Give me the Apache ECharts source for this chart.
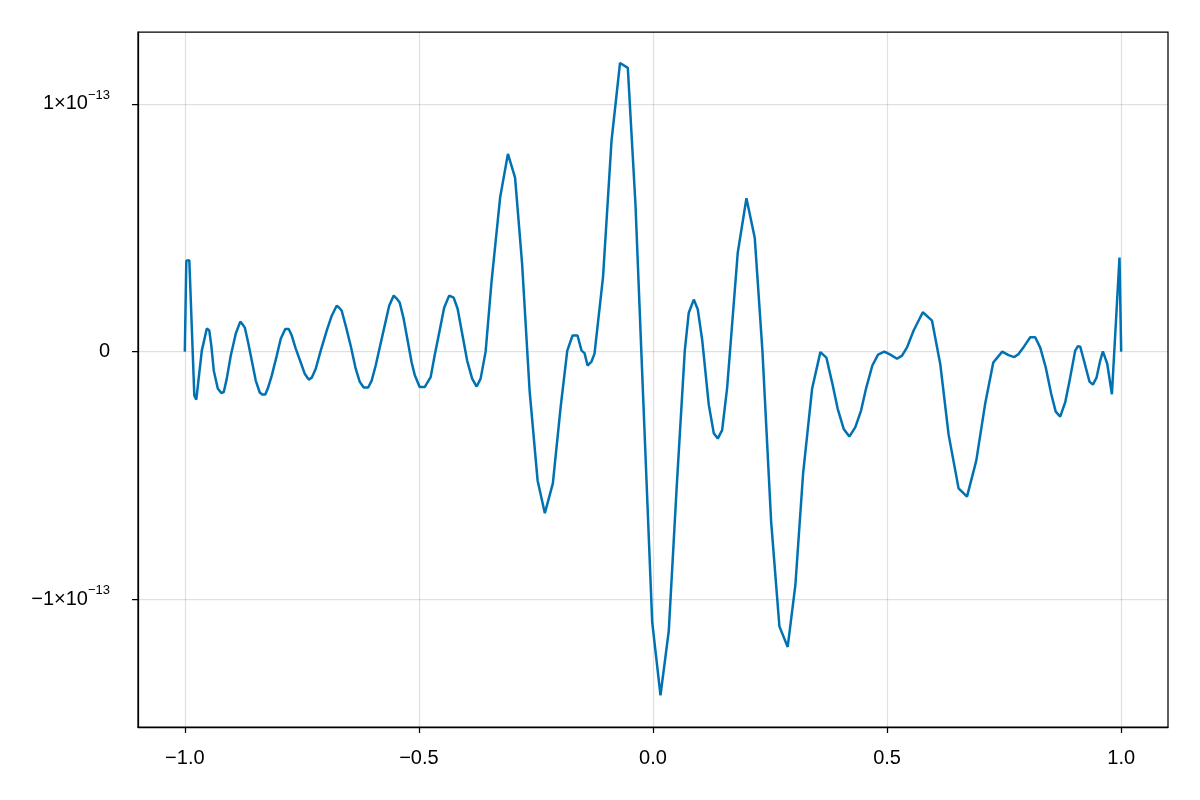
<!DOCTYPE html>
<html>
<head>
<meta charset="utf-8">
<script src="https://cdn.jsdelivr.net/npm/echarts@6/dist/echarts.min.js"></script>
<style>
html,body{margin:0;padding:0;background:#fff;}
#chart{width:1200px;height:800px;}
</style>
</head>
<body>
<div id="chart"></div>
<script>
const xValues = [-1.0000,-0.9968,-0.9904,-0.9797,-0.9755,-0.9637,-0.9530,-0.9477,-0.9434,-0.9381,-0.9296,-0.9221,-0.9168,-0.9104,-0.9018,-0.8911,-0.8815,-0.8762,-0.8719,-0.8655,-0.8570,-0.8485,-0.8399,-0.8346,-0.8282,-0.8228,-0.8143,-0.8036,-0.7951,-0.7855,-0.7780,-0.7716,-0.7631,-0.7524,-0.7439,-0.7353,-0.7289,-0.7204,-0.7097,-0.6969,-0.6862,-0.6756,-0.6702,-0.6649,-0.6564,-0.6457,-0.6350,-0.6265,-0.6179,-0.6083,-0.6009,-0.5923,-0.5838,-0.5731,-0.5635,-0.5539,-0.5475,-0.5411,-0.5326,-0.5240,-0.5155,-0.5091,-0.4984,-0.4877,-0.4749,-0.4664,-0.4557,-0.4461,-0.4354,-0.4258,-0.4173,-0.4088,-0.3970,-0.3863,-0.3767,-0.3682,-0.3575,-0.3447,-0.3266,-0.3099,-0.2946,-0.2796,-0.2636,-0.2465,-0.2310,-0.2139,-0.1974,-0.1831,-0.1718,-0.1612,-0.1526,-0.1462,-0.1398,-0.1313,-0.1249,-0.1067,-0.0886,-0.0704,-0.0538,-0.0374,-0.0245,-0.0017,0.0160,0.0337,0.0502,0.0679,0.0764,0.0871,0.0956,0.1050,0.1191,0.1298,0.1383,0.1477,0.1584,0.1810,0.1996,0.2173,0.2337,0.2523,0.2700,0.2877,0.3042,0.3206,0.3398,0.3575,0.3703,0.3825,0.3945,0.4073,0.4194,0.4322,0.4444,0.4557,0.4685,0.4807,0.4941,0.5069,0.5212,0.5319,0.5426,0.5567,0.5763,0.5960,0.6137,0.6314,0.6527,0.6707,0.6905,0.7097,0.7268,0.7460,0.7594,0.7716,0.7808,0.7930,0.8058,0.8164,0.8271,0.8388,0.8506,0.8602,0.8698,0.8805,0.8911,0.9018,0.9076,0.9125,0.9210,0.9323,0.9396,0.9473,0.9552,0.9609,0.9643,0.9701,0.9802,0.9840,0.9964,1.0000];

const yValues = [0, 0.367e-13, 0.369e-13, -0.177e-13, -0.194e-13, 0.004e-13, 0.093e-13, 0.085e-13, 0.024e-13, -0.077e-13, -0.149e-13, -0.167e-13, -0.163e-13, -0.109e-13, -0.016e-13, 0.073e-13, 0.121e-13, 0.109e-13, 0.097e-13, 0.044e-13, -0.036e-13, -0.117e-13, -0.165e-13, -0.173e-13, -0.173e-13, -0.149e-13, -0.097e-13, -0.016e-13, 0.052e-13, 0.091e-13, 0.091e-13, 0.065e-13, 0.012e-13, -0.044e-13, -0.089e-13, -0.113e-13, -0.105e-13, -0.069e-13, 0.004e-13, 0.085e-13, 0.145e-13, 0.185e-13, 0.177e-13, 0.165e-13, 0.105e-13, 0.024e-13, -0.069e-13, -0.121e-13, -0.145e-13, -0.145e-13, -0.117e-13, -0.056e-13, 0.016e-13, 0.105e-13, 0.185e-13, 0.226e-13, 0.214e-13, 0.198e-13, 0.133e-13, 0.044e-13, -0.044e-13, -0.093e-13, -0.143e-13, -0.143e-13, -0.103e-13, -0.016e-13, 0.085e-13, 0.177e-13, 0.226e-13, 0.218e-13, 0.173e-13, 0.085e-13, -0.036e-13, -0.109e-13, -0.141e-13, -0.109e-13, 0, 0.286e-13, 0.621e-13, 0.798e-13, 0.702e-13, 0.355e-13, -0.157e-13, -0.520e-13, -0.652e-13, -0.532e-13, -0.226e-13, 0.004e-13, 0.065e-13, 0.065e-13, 0.004e-13, -0.006e-13, -0.056e-13, -0.040e-13, -0.008e-13, 0.302e-13, 0.851e-13, 1.165e-13, 1.145e-13, 0.593e-13, -0.020e-13, -1.092e-13, -1.387e-13, -1.127e-13, -0.560e-13, 0.004e-13, 0.157e-13, 0.210e-13, 0.171e-13, 0.048e-13, -0.214e-13, -0.329e-13, -0.351e-13, -0.317e-13, -0.145e-13, 0.399e-13, 0.619e-13, 0.460e-13, 0.004e-13, -0.685e-13, -1.109e-13, -1.192e-13, -0.940e-13, -0.492e-13, -0.150e-13, -0.002e-13, -0.024e-13, -0.124e-13, -0.231e-13, -0.312e-13, -0.343e-13, -0.305e-13, -0.238e-13, -0.144e-13, -0.056e-13, -0.012e-13, 0, -0.012e-13, -0.029e-13, -0.016e-13, 0.017e-13, 0.085e-13, 0.159e-13, 0.125e-13, -0.052e-13, -0.335e-13, -0.552e-13, -0.585e-13, -0.440e-13, -0.208e-13, -0.044e-13, 0, -0.014e-13, -0.022e-13, -0.010e-13, 0.022e-13, 0.058e-13, 0.058e-13, 0.016e-13, -0.063e-13, -0.171e-13, -0.242e-13, -0.262e-13, -0.204e-13, -0.104e-13, 0.004e-13, 0.022e-13, 0.020e-13, -0.040e-13, -0.121e-13, -0.133e-13, -0.105e-13, -0.036e-13, 0.001e-13, 0, -0.048e-13, -0.172e-13, -0.172e-13, 0.380e-13, 0];

const xTicks = [-1.0, -0.5, 0.0, 0.5, 1.0];
const xTickLabels = ['\u22121.0', '\u22120.5', '0.0', '0.5', '1.0'];
const yTicks = [-1e-13, 0, 1e-13];
const yTickLabels = ['{m|\u22121\u00d710}{s|\u221213}', '{m|0}', '{m|1\u00d710}{s|\u221213}'];

const seriesData = xValues.map((x, i) => [x, yValues[i]]);

const FONT = 'Liberation Sans, Arial, Helvetica, sans-serif';
const chart = echarts.init(document.getElementById('chart'), null, {renderer: 'canvas'});

chart.setOption({
  animation: false,
  backgroundColor: '#ffffff',
  grid: {
    left: 138, right: 32, top: 32, bottom: 73,
    show: true, borderColor: '#000', borderWidth: 1.25, backgroundColor: 'transparent'
  },
  xAxis: {
    type: 'value',
    min: -1.1, max: 1.1,
    axisLine: {show: true, onZero: false, lineStyle: {color: '#000', width: 1.25}},
    axisTick: {show: true, inside: false, length: 6, customValues: xTicks, lineStyle: {color: '#000', width: 1.25}},
    axisLabel: {
      show: true, customValues: xTicks, margin: 21,
      fontFamily: FONT, fontSize: 20, color: '#000',
      formatter: function (v) {
        const i = xTicks.findIndex(t => Math.abs(t - v) < 1e-9);
        return i >= 0 ? xTickLabels[i] : '';
      }
    },
    splitLine: {show: true, lineStyle: {color: 'rgba(0,0,0,0.12)', width: 1.25}}
  },
  yAxis: {
    type: 'value',
    min: -1.515e-13, max: 1.29e-13,
    axisLine: {show: true, onZero: false, lineStyle: {color: '#000', width: 1.25}},
    axisTick: {show: true, inside: false, length: 6, customValues: yTicks, lineStyle: {color: '#000', width: 1.25}},
    axisLabel: {
      show: true, customValues: yTicks, margin: 28,
      fontFamily: FONT, color: '#000',
      formatter: function (v) {
        const i = yTicks.findIndex(t => Math.abs(t - v) < 1e-20);
        return i >= 0 ? yTickLabels[i] : '';
      },
      rich: {
        m: {fontFamily: FONT, fontSize: 20, color: '#000', lineHeight: 30},
        s: {fontFamily: FONT, fontSize: 13, color: '#000', lineHeight: 13, verticalAlign: 'top'}
      }
    },
    splitLine: {show: true, lineStyle: {color: 'rgba(0,0,0,0.12)', width: 1.25}}
  },
  series: [{
    type: 'line',
    data: seriesData,
    showSymbol: false,
    symbol: 'none',
    smooth: false,
    lineStyle: {color: '#0072B2', width: 2.5},
    clip: true
  }]
});
</script>
</body>
</html>
